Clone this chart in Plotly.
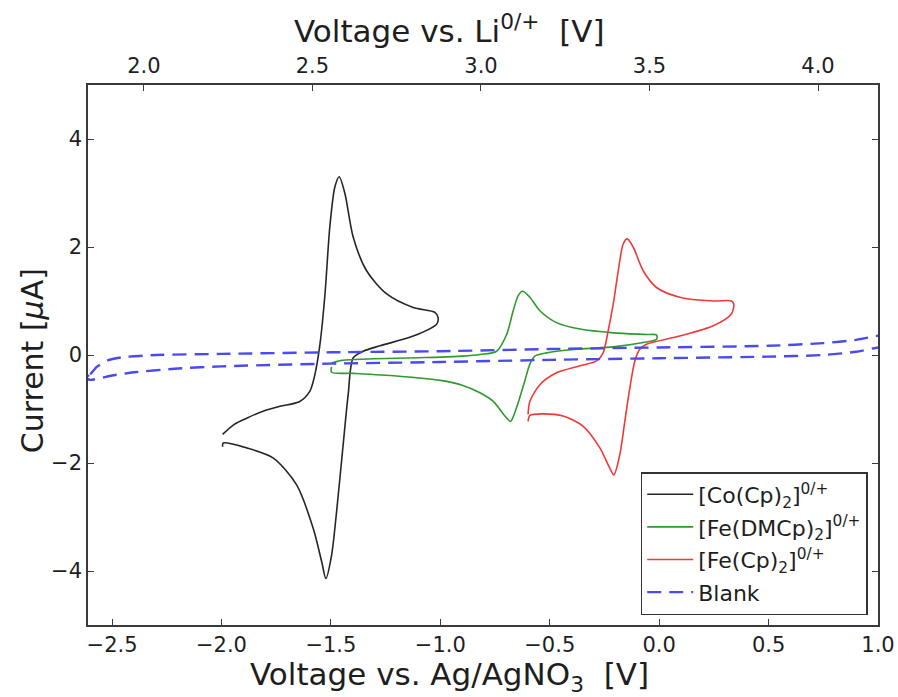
import plotly.graph_objects as go

# ---- data ----
co_x = [-1.995, -1.94, -1.885, -1.81, -1.733, -1.642, -1.596, -1.573, -1.55, -1.527, -1.505, -1.482, -1.462,
        -1.436, -1.398, -1.337, -1.245, -1.124, -1.025, -1.01, -1.017, -1.124, -1.276, -1.352,
        -1.398, -1.421, -1.444, -1.474, -1.497, -1.523, -1.542, -1.581, -1.656, -1.763, -1.885,
        -1.992, -1.995]
co_y = [-1.47, -1.28, -1.17, -1.04, -0.95, -0.86, -0.67, -0.36, 0.2, 1.13, 2.37, 3.11, 3.30,
        2.99, 2.18, 1.56, 1.13, 0.88, 0.79, 0.69, 0.57, 0.35, 0.17, 0.07,
        -0.05, -0.73, -1.66, -2.9, -3.71, -4.14, -3.83, -3.21, -2.41, -1.91, -1.72,
        -1.63, -1.70]

fedm_x = [-1.497, -1.45, -1.3, -1.1, -1.0, -0.9, -0.819, -0.743, -0.697, -0.667, -0.644, -0.624,
          -0.591, -0.545, -0.469, -0.362, -0.21, -0.058, -0.012, -0.012, -0.073, -0.21, -0.362,
          -0.515, -0.568, -0.591, -0.614, -0.637, -0.66, -0.679, -0.705, -0.758, -0.819, -0.9,
          -1.0, -1.2, -1.4, -1.497, -1.497]
fedm_y = [-0.15, -0.10, -0.07, -0.05, -0.04, -0.02, 0.01, 0.07, 0.38, 0.82, 1.10, 1.18,
          1.07, 0.82, 0.60, 0.48, 0.41, 0.38, 0.37, 0.29, 0.23, 0.15, 0.11,
          0.04, -0.02, -0.17, -0.48, -0.79, -1.07, -1.23, -1.13, -0.86, -0.70, -0.56,
          -0.47, -0.39, -0.34, -0.32, -0.22]

fe_x = [-0.599, -0.591, -0.545, -0.469, -0.362, -0.286, -0.256, -0.233, -0.21, -0.187, -0.164,
        -0.146, -0.119, -0.073, -0.012, 0.094, 0.247, 0.33, 0.341, 0.33, 0.247, 0.094, -0.058,
        -0.088, -0.111, -0.134, -0.157, -0.18, -0.207, -0.225, -0.271, -0.347, -0.439, -0.53,
        -0.591, -0.599]
fe_y = [-1.10, -0.86, -0.55, -0.33, -0.20, -0.11, 0.04, 0.45, 0.94, 1.56, 2.06,
        2.15, 2.00, 1.56, 1.25, 1.07, 1.00, 1.00, 0.94, 0.76, 0.54, 0.35, 0.20,
        0.11, -0.11, -0.61, -1.23, -1.85, -2.22, -2.10, -1.72, -1.32, -1.13, -1.09,
        -1.12, -1.23]

blank_x = [-2.62, -2.6, -2.57, -2.52, -2.45, -2.3, -2.0, -1.5, -1.0, -0.5, 0.0, 0.5, 0.75, 0.9, 1.0, 1.03,
           1.03, 1.0, 0.9, 0.75, 0.5, 0.0, -0.5, -1.0, -1.5, -2.0, -2.2, -2.4, -2.5, -2.6, -2.62]
blank_y = [-0.42, -0.36, -0.22, -0.10, -0.04, 0.00, 0.02, 0.05, 0.07, 0.11, 0.14, 0.17, 0.22, 0.28, 0.36, 0.40,
           0.15, 0.14, 0.06, 0.00, -0.03, -0.06, -0.09, -0.13, -0.16, -0.21, -0.25, -0.32, -0.38, -0.46, -0.42]

x_bottom_range = [-2.61, 1.0]
x_top_range = [1.834, 4.178]
y_range = [-5, 5]
x_bottom_ticks = [-2.5, -2.0, -1.5, -1.0, -0.5, 0.0, 0.5, 1.0]
x_top_ticks = [2.0, 2.5, 3.0, 3.5, 4.0]
y_ticks = [-4, -2, 0, 2, 4]

def fmt(v):
    s = f"{v:.1f}"
    return s.replace("-", "\u2212")

FONT = "DejaVu Sans"
AX = "#3a3a3a"
TXT = "#1e1e1e"
TICKSZ = 21
TITLESZ = 31

fig = go.Figure()
fig.add_trace(go.Scatter(x=co_x, y=co_y, mode="lines", name="[Co(Cp)<sub>2</sub>]<sup>0/+</sup>",
                         legendgroup="a",
                         line=dict(color="#262626", width=1.6, shape="spline", smoothing=0.8)))
fig.add_trace(go.Scatter(x=fedm_x, y=fedm_y, mode="lines", name="[Fe(DMCp)<sub>2</sub>]<sup>0/+</sup>",
                         legendgroup="b",
                         line=dict(color="#2f9a2f", width=1.6, shape="spline", smoothing=0.8)))
fig.add_trace(go.Scatter(x=fe_x, y=fe_y, mode="lines", name="[Fe(Cp)<sub>2</sub>]<sup>0/+</sup>",
                         legendgroup="c",
                         line=dict(color="#f03a3a", width=1.6, shape="spline", smoothing=0.8)))
fig.add_trace(go.Scatter(x=blank_x, y=blank_y, mode="lines", name="Blank",
                         legendgroup="d",
                         line=dict(color="#4a4af0", width=2.4, dash="14px,8px", shape="spline", smoothing=0.6)))
# carrier for the top axis
fig.add_trace(go.Scatter(x=x_top_range, y=[None, None], xaxis="x2", mode="lines",
                         showlegend=False, hoverinfo="skip"))

fig.update_layout(
    width=898, height=697,
    margin=dict(l=88, r=20, t=85, b=72, autoexpand=False),
    paper_bgcolor="white", plot_bgcolor="white",
    font=dict(family=FONT, size=TICKSZ, color=TXT),
    showlegend=True,
    legend=dict(x=0.987, y=0.0185, xanchor="right", yanchor="bottom",
                bordercolor="#333333", borderwidth=1.5, bgcolor="white",
                font=dict(family=FONT, size=22, color=TXT),
                tracegroupgap=1, itemwidth=46),
    xaxis=dict(range=x_bottom_range, tickvals=x_bottom_ticks,
               ticktext=[fmt(v) for v in x_bottom_ticks],
               ticks="inside", ticklen=6, tickcolor=AX, tickwidth=1,
               showline=True, linecolor=AX, linewidth=1.5, mirror=True,
               showgrid=False, zeroline=False, automargin=False,
               tickfont=dict(size=TICKSZ, color=TXT)),
    xaxis2=dict(range=x_top_range, overlaying="x", side="top", anchor="y",
                tickvals=x_top_ticks, ticktext=[fmt(v) for v in x_top_ticks],
                ticks="inside", ticklen=6, tickcolor=AX, tickwidth=1,
                ticklabelstandoff=7, automargin=False,
                showline=False, showgrid=False, zeroline=False,
                tickfont=dict(size=TICKSZ, color=TXT)),
    yaxis=dict(range=y_range, tickvals=y_ticks, ticktext=[str(v).replace("-", "\u2212") for v in y_ticks],
               ticks="inside", ticklen=6, tickcolor=AX, tickwidth=1,
               showline=True, linecolor=AX, linewidth=1.5, mirror="ticks",
               showgrid=False, zeroline=False, automargin=False,
               tickfont=dict(size=TICKSZ, color=TXT)),
    annotations=[
        dict(text="Voltage vs. Ag/AgNO<sub>3</sub>  [V]", xref="paper", yref="paper",
             x=0.458, y=-0.096, xanchor="center", yanchor="middle", showarrow=False,
             font=dict(size=TITLESZ, color=TXT)),
        dict(text="Voltage vs. Li<sup>0/+</sup>  [V]", xref="paper", yref="paper",
             x=0.458, y=1.104, xanchor="center", yanchor="middle", showarrow=False,
             font=dict(size=TITLESZ, color=TXT)),
        dict(text="Current [<i>\u03bc</i>A]", xref="paper", yref="paper",
             x=-0.071, y=0.49, xanchor="center", yanchor="middle", showarrow=False,
             textangle=-90, font=dict(size=30, color=TXT)),
    ],
)

fig.write_html("out.html")
